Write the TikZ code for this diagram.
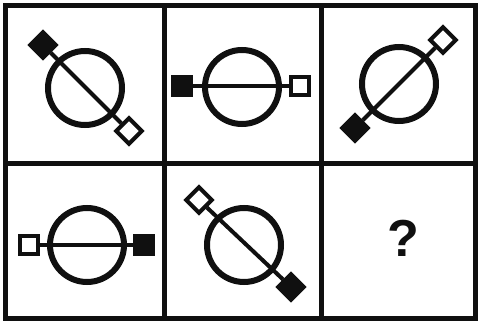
\documentclass[tikz,border=0pt]{standalone}
\usepackage{fontspec}
\setsansfont{Liberation Sans}
\usepackage{xcolor}
\usepackage{tikz}
\definecolor{inkblack}{HTML}{101010}
\tikzset{
  gridline/.style={draw=inkblack,line width=2.5mm},
  ring/.style={circle,draw=inkblack,line width=3mm,minimum size=37mm,inner sep=0pt},
  fillsq/.style={rectangle,draw=inkblack,fill=inkblack,line width=2mm,minimum size=9mm,inner sep=0pt},
  opensq/.style={rectangle,draw=inkblack,fill=white,line width=2mm,minimum size=9mm,inner sep=0pt},
  rod/.style={draw=inkblack,line width=2mm},
}
\begin{document}
\begin{tikzpicture}[x=0.5mm,y=-0.5mm]
    \useasboundingbox (0,0) rectangle (480,324);
    % grid
    \draw[gridline] (5.5,5.5) rectangle (475,318.5);
    \draw[gridline] (164.5,5.5) -- (164.5,318.5);
    \draw[gridline] (321,5.5) -- (321,318.5);
    \draw[gridline] (5.5,163.5) -- (475,163.5);
    % top row
    \node[ring] (c1) at (85,88) {};
    \node[fillsq,rotate=45] (f1) at (43,45) {};
    \node[opensq,rotate=45] (o1) at (129,131) {};
    \draw[rod] (f1) -- (o1);
    \node[ring] (c2) at (242,87) {};
    \node[fillsq] (f2) at (182,86) {};
    \node[opensq] (o2) at (300,86) {};
    \draw[rod] (f2) -- (o2);
    \node[ring] (c3) at (399,84) {};
    \node[fillsq,rotate=45] (f3) at (355,128) {};
    \node[opensq,rotate=45] (o3) at (443,40) {};
    \draw[rod] (f3) -- (o3);
    % bottom row
    \node[ring] (c4) at (87,245) {};
    \node[opensq] (o4) at (29,245) {};
    \node[fillsq] (f4) at (144,245) {};
    \draw[rod] (o4) -- (f4);
    \node[ring] (c5) at (244,245) {};
    \node[opensq,rotate=45] (o5) at (199,200) {};
    \node[fillsq,rotate=45] (f5) at (291,287) {};
    \draw[rod] (o5) -- (f5);
    \node[font=\sffamily\bfseries\fontsize{74}{74}\selectfont,text=inkblack] (q) at (403,238) {?};
\end{tikzpicture}
\end{document}
